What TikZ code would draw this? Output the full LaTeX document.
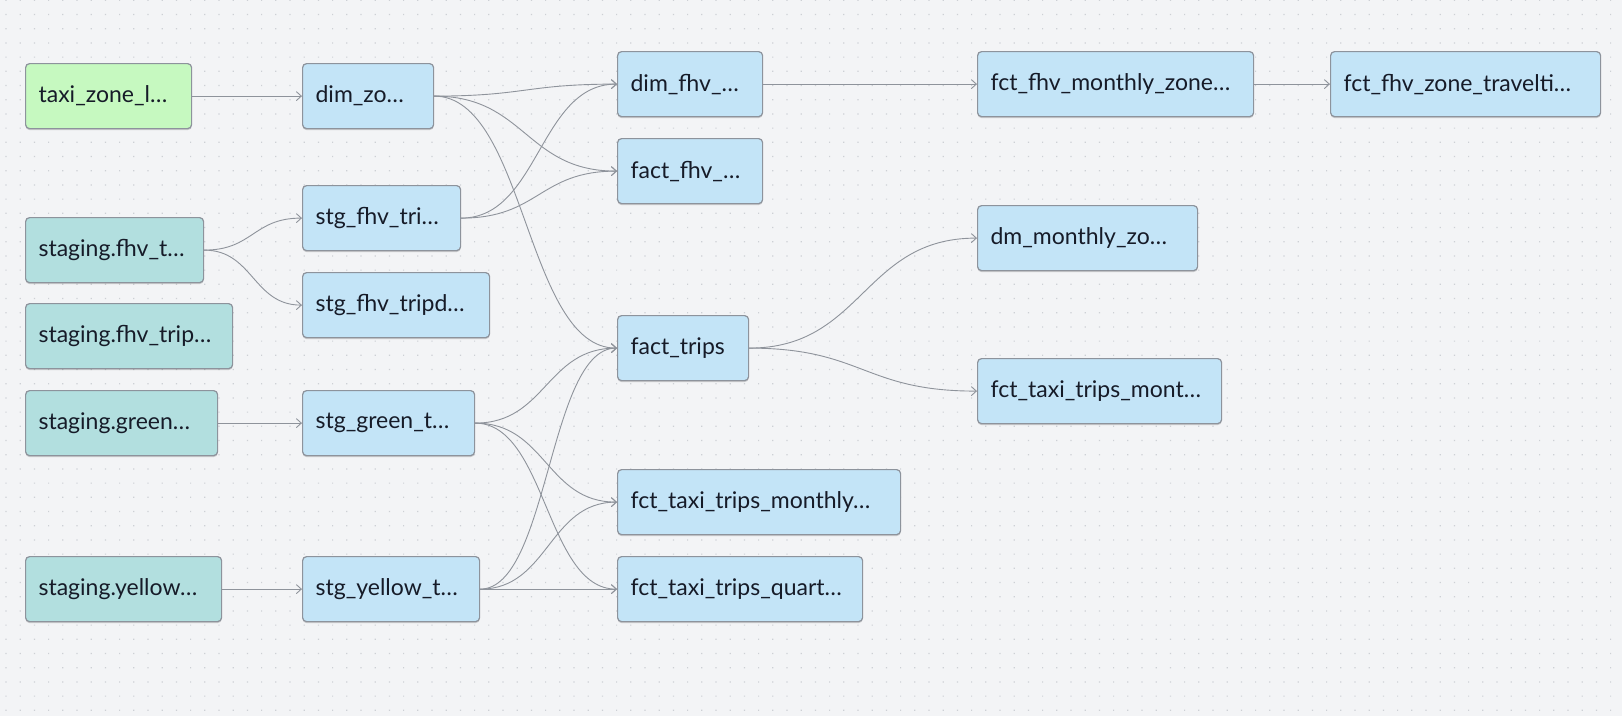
\documentclass[tikz,border=0pt]{standalone}
\usepackage{fontspec}
\setmainfont{Lato}
\usetikzlibrary{calc,arrows.meta,shadows}
\definecolor{bgcol}{HTML}{F3F4F6}
\definecolor{dotcol}{HTML}{CDD0D5}
\definecolor{bordercol}{HTML}{8D939C}
\definecolor{edgecol}{HTML}{8E939B}
\definecolor{modelblue}{HTML}{C3E4F7}
\definecolor{seedgreen}{HTML}{C6F9C0}
\definecolor{srcteal}{HTML}{B2DFDF}
\definecolor{txtcol}{HTML}{161B28}
\tikzset{
  dbtnode/.style={draw=bordercol, line width=1.2pt, rounded corners=4pt,
    anchor=north west, minimum height=65pt, inner xsep=13pt, inner ysep=0pt,
    align=left, text=txtcol, font=\fontsize{23}{27}\selectfont,
    drop shadow={shadow xshift=0pt, shadow yshift=-1.5pt, opacity=0.18, fill=black}},
  model/.style={dbtnode, fill=modelblue},
  seed/.style={dbtnode, fill=seedgreen},
  source/.style={dbtnode, fill=srcteal},
  flow/.style={draw=edgecol, line width=0.9pt, -{Straight Barb[length=5pt,width=9pt]},
    to path={let \p1=(\tikztostart), \p2=(\tikztotarget), \n1={0.5*(\x2-\x1)} in
      .. controls +(\n1,0pt) and +(-\n1,0pt) .. (\tikztotarget) \tikztonodes}}
}
\begin{document}
\begin{tikzpicture}[x=1pt,y=-1pt]
\fill[bgcol] (0,0) rectangle (1622,716);
\useasboundingbox (0,0) rectangle (1622,716);
\foreach \j in {0,...,50} {
  \fill[dotcol] foreach \i in {0,...,113} { (5.4+14.2*\i, -0.3+14.2*\j) rectangle ++(1.2,1.2) };
}

% column 1
\node[seed, text width=140pt] (tz) at (25,63) {taxi\_zone\_l…};
\node[source, text width=152pt] (sfhvt) at (25,217) {staging.fhv\_t…};
\node[source, text width=181pt] (sfhvtrip) at (25,303) {staging.fhv\_trip…};
\node[source, text width=166pt] (sgreen) at (25,390) {staging.green…};
\node[source, text width=170pt] (syellow) at (25,556) {staging.yellow…};
% column 2
\node[model, text width=105pt] (dimzo) at (302,63) {dim\_zo…};
\node[model, text width=132pt] (stgfhvtri) at (302,185) {stg\_fhv\_tri…};
\node[model, text width=161pt] (stgfhvtripd) at (302,272) {stg\_fhv\_tripd…};
\node[model, text width=146pt] (stggreen) at (302,390) {stg\_green\_t…};
\node[model, text width=151pt] (stgyellow) at (302,556) {stg\_yellow\_t…};
% column 3
\node[model, text width=119pt] (dimfhv) at (617,51) {dim\_fhv\_…};
\node[model, text width=119pt] (factfhv) at (617,138) {fact\_fhv\_…};
\node[model, text width=105pt] (facttrips) at (617,315) {fact\_trips};
\node[model, text width=257pt] (fctmonthly) at (617,469) {fct\_taxi\_trips\_monthly…};
\node[model, text width=219pt] (fctquart) at (617,556) {fct\_taxi\_trips\_quart…};
% column 4
\node[model, text width=250pt] (fhvmz) at (977,51) {fct\_fhv\_monthly\_zone…};
\node[model, text width=194pt] (dmmz) at (977,205) {dm\_monthly\_zo…};
\node[model, text width=218pt] (taximont) at (977,358) {fct\_taxi\_trips\_mont…};
% column 5
\node[model, text width=244pt] (fhvzt) at (1330,51) {fct\_fhv\_zone\_travelti…};

% edges
\draw[flow] (tz.east) to (dimzo.west);
\draw[flow] (dimzo.east) to (dimfhv.west);
\draw[flow] (dimzo.east) to (factfhv.west);
\draw[flow] (dimzo.east) to (facttrips.west);
\draw[flow] (stgfhvtri.east) to (dimfhv.west);
\draw[flow] (stgfhvtri.east) to (factfhv.west);
\draw[flow] (sfhvt.east) to (stgfhvtri.west);
\draw[flow] (sfhvt.east) to (stgfhvtripd.west);
\draw[flow] (sgreen.east) to (stggreen.west);
\draw[flow] (syellow.east) to (stgyellow.west);
\draw[flow] (stggreen.east) to (facttrips.west);
\draw[flow] (stggreen.east) to (fctmonthly.west);
\draw[flow] (stggreen.east) to (fctquart.west);
\draw[flow] (stgyellow.east) to (facttrips.west);
\draw[flow] (stgyellow.east) to (fctmonthly.west);
\draw[flow] (stgyellow.east) to (fctquart.west);
\draw[flow] (dimfhv.east) to (fhvmz.west);
\draw[flow] (fhvmz.east) to (fhvzt.west);
\draw[flow] (facttrips.east) to (dmmz.west);
\draw[flow] (facttrips.east) to (taximont.west);
\end{tikzpicture}
\end{document}
